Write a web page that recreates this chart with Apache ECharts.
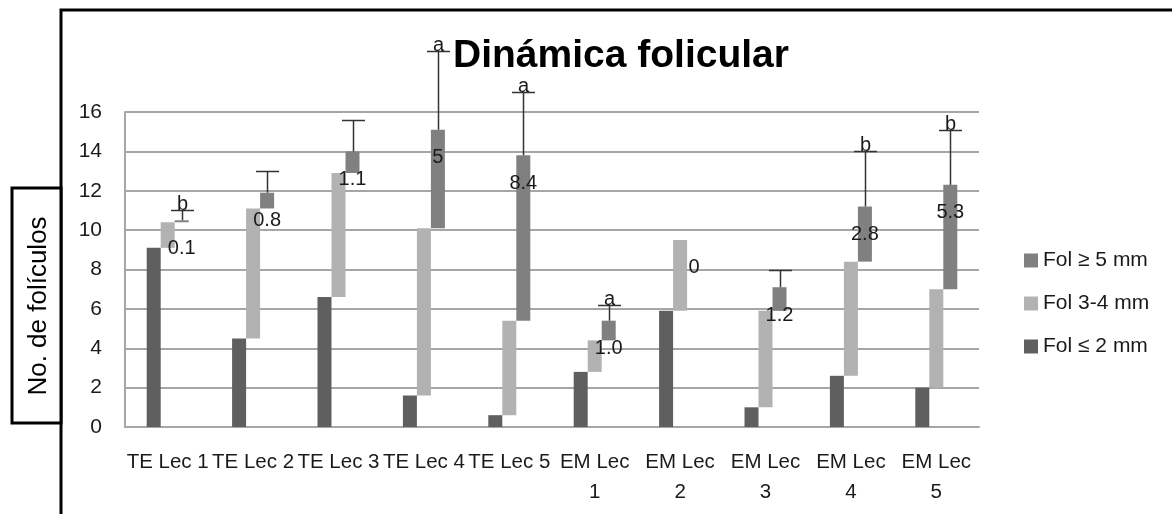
<!DOCTYPE html>
<html><head><meta charset="utf-8">
<script src="https://cdn.jsdelivr.net/npm/echarts@6/dist/echarts.min.js"></script>
<style>html,body{margin:0;padding:0;background:#fff}#c{width:1172px;height:514px}</style>
</head><body><div id="c"></div>
<script>
const categories = ['TE Lec 1','TE Lec 2','TE Lec 3','TE Lec 4','TE Lec 5','EM Lec 1','EM Lec 2','EM Lec 3','EM Lec 4','EM Lec 5'];
const folSmall = [9.1, 4.5, 6.6, 1.6, 0.6, 2.8, 5.9, 1.0, 2.6, 2.0];   // Fol ≤ 2 mm
const folMid   = [1.3, 6.6, 6.3, 8.5, 4.8, 1.6, 3.6, 4.9, 5.8, 5.0];   // Fol 3-4 mm
const folLarge = [0.1, 0.8, 1.1, 5, 8.4, 1.0, 0, 1.2, 2.8, 5.3];       // Fol ≥ 5 mm
const folLargeLabels = ['0.1','0.8','1.1','5','8.4','1.0','0','1.2','2.8','5.3'];
const errLarge = [0.5, 1.1, 1.6, 4.0, 3.2, 0.8, null, 0.9, 2.8, 2.8];
const letters = ['b','','','a','a','a','','','b','b'];
const seriesNames = ['Fol ≤ 2 mm','Fol 3-4 mm','Fol ≥ 5 mm'];

const FONT = 'Liberation Sans';
const baseMid = folSmall.slice();
const baseLarge = folSmall.map((v,i)=> +(v + folMid[i]).toFixed(2));
const totals = baseLarge.map((v,i)=> +(v + folLarge[i]).toFixed(2));
const errData = categories.map((c,i)=> [i, totals[i], errLarge[i]==null ? totals[i] : totals[i] + errLarge[i]]);

const chart = echarts.init(document.getElementById('c'));
const transparent = {color:'rgba(0,0,0,0)'};
chart.setOption({
  animation:false,
  backgroundColor:'#fff',
  textStyle:{fontFamily:FONT},
  graphic:[
    {type:'rect', shape:{x:61, y:10, width:1300, height:700}, style:{fill:'none', stroke:'#000', lineWidth:3}, silent:true, z:-1},
    {type:'rect', shape:{x:12, y:188, width:49, height:235}, style:{fill:'#fff', stroke:'#000', lineWidth:3}, silent:true},
    {type:'text', x:39, y:306, rotation:Math.PI/2,
      style:{text:'No. de folículos', textAlign:'center', textVerticalAlign:'middle', font:'26px '+FONT, fill:'#000'}},
    {type:'text', x:621, y:56, z:20,
      style:{text:'Dinámica folicular', textAlign:'center', textVerticalAlign:'middle', font:'bold 39px '+FONT, fill:'#000'}}
  ],
  grid:{left:125, right:193, top:112, bottom:87},
  legend:{orient:'vertical', left:1019, top:245, itemWidth:14, itemHeight:14, itemGap:22, icon:'rect',
    data:[seriesNames[2], seriesNames[1], seriesNames[0]],
    textStyle:{fontFamily:FONT, fontSize:21, color:'#1a1a1a'}},
  xAxis:{type:'category', data:categories,
    axisLine:{lineStyle:{color:'#a6a6a6', width:2}}, axisTick:{show:false},
    axisLabel:{interval:0, margin:20, fontFamily:FONT, fontSize:20.5, color:'#1a1a1a', lineHeight:30,
      formatter: v => v.startsWith('EM Lec ') ? v.replace('EM Lec ','EM Lec\n') : v}},
  yAxis:{type:'value', min:0, max:16, interval:2,
    axisLine:{show:true, lineStyle:{color:'#a6a6a6', width:2}}, axisTick:{show:false},
    splitLine:{lineStyle:{color:'#a6a6a6', width:2}},
    axisLabel:{margin:23, fontFamily:FONT, fontSize:21, color:'#1a1a1a'}},
  series:[
    {name:seriesNames[0], type:'bar', stack:'s', data:folSmall, barWidth:14, barGap:'0%', itemStyle:{color:'#5f5f5f'}},
    {name:'base2', type:'bar', stack:'m', data:baseMid, barWidth:14, barGap:'0%', itemStyle:transparent, silent:true},
    {name:seriesNames[1], type:'bar', stack:'m', data:folMid, barWidth:14, barGap:'0%', itemStyle:{color:'#b2b2b2'}},
    {name:'base3', type:'bar', stack:'l', data:baseLarge, barWidth:14, barGap:'0%', itemStyle:transparent, silent:true},
    {name:seriesNames[2], type:'bar', stack:'l', data:folLarge, barWidth:14, barGap:'0%', itemStyle:{color:'#808080'},
      label:{show:true, position:'insideTop', distance:18, fontFamily:FONT, fontSize:20, color:'#1a1a1a',
        formatter: p => folLargeLabels[p.dataIndex]}},
    {name:'err', type:'custom', data:errData, clip:false, silent:true, z:10,
      renderItem:(params, api)=>{
        const i = params.dataIndex;
        if (errLarge[i]==null) return null;
        const p0 = api.coord([api.value(0), api.value(1)]);
        const p1 = api.coord([api.value(0), api.value(2)]);
        const x = Math.round(p0[0] + 14) + 0.5;
        const yt = Math.round(p1[1]) + 0.5;
        const children = [
          {type:'line', shape:{x1:x, y1:p0[1], x2:x, y2:yt}, style:{stroke:'#333', lineWidth:1.5}},
          {type:'line', shape:{x1:x-11.5, y1:yt, x2:x+11.5, y2:yt}, style:{stroke:'#333', lineWidth:1.5}}
        ];
        if (letters[i]) children.push({type:'text', x:x, y:yt+4,
          style:{text:letters[i], textAlign:'center', textVerticalAlign:'bottom', font:'20px '+FONT, fill:'#1a1a1a'}});
        return {type:'group', children};
      }}
  ]
});
</script></body></html>
